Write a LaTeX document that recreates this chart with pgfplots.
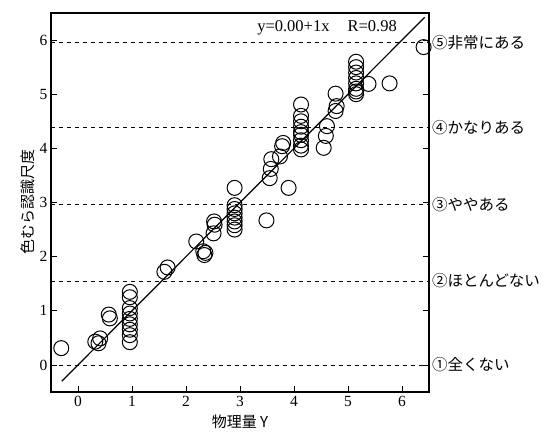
\documentclass[border=0pt]{standalone}
\usepackage{pgfplots}
\pgfplotsset{compat=1.18}
\usepackage{fontspec}
\setmainfont{Liberation Serif}
\newfontfamily\jp{Noto Sans CJK JP}
\begin{document}
\begin{tikzpicture}
\begin{axis}[
  scale only axis, width=378pt, height=379pt,
  xmin=-0.5, xmax=6.5, ymin=-0.5, ymax=6.5,
  axis line style={line width=1.5pt},
  xtick={0,1,2,3,4,5,6}, ytick={0,1,2,3,4,5,6},
  xtick pos=bottom, ytick pos=both,
  tick align=inside, major tick length=6pt,
  tick style={line width=0.8pt, black},
  /pgf/number format/assume math mode=true,
  ticklabel style={font=\fontsize{15.5}{17}\selectfont},
  xticklabel style={yshift=-1pt},
  xlabel={\jp\fontsize{15}{17}\selectfont 物理量 Y},
  ylabel={\jp\fontsize{15}{17}\selectfont 色むら認識尺度},
  xlabel style={yshift=-1pt},
  ylabel style={yshift=-2pt},
  clip=false,
]
\foreach \yy in {0,1.55,2.97,4.39,5.96}{
  \edef\tmp{\noexpand\addplot[black, line width=0.7pt, dash pattern=on 4pt off 4pt] coordinates {(-0.5,\yy) (6.5,\yy)};}
  \tmp
}
\addplot[black, line width=1.2pt] coordinates {(-0.3,-0.3) (6.42,6.42)};
\addplot[only marks, mark=o, mark size=7.5pt, mark options={line width=1pt, black}] coordinates {
(-0.31,0.31) (0.32,0.43) (0.38,0.40) (0.41,0.49) (0.57,0.93) (0.59,0.86)
(0.96,1.35) (0.96,1.25) (0.96,1.05) (0.96,0.95) (0.96,0.85) (0.96,0.75) (0.96,0.65) (0.96,0.55) (0.96,0.42)
(1.60,1.72) (1.66,1.80) (2.19,2.28) (2.32,2.10) (2.34,2.03) (2.36,2.07)
(2.52,2.65) (2.53,2.59) (2.51,2.43)
(2.90,3.27) (2.90,2.95) (2.90,2.88) (2.90,2.80) (2.90,2.72) (2.90,2.65) (2.90,2.58) (2.90,2.50)
(3.49,2.67) (3.90,3.27)
(3.55,3.45) (3.57,3.62) (3.58,3.80) (3.74,3.85) (3.78,4.04) (3.80,4.10)
(4.13,4.81) (4.13,4.60) (4.13,4.50) (4.13,4.40) (4.13,4.30) (4.13,4.25) (4.13,4.15) (4.13,4.05) (4.13,3.98)
(4.55,4.01) (4.59,4.23) (4.61,4.41)
(4.77,4.69) (4.79,4.78) (4.77,5.01)
(5.15,5.60) (5.15,5.50) (5.15,5.40) (5.15,5.30) (5.15,5.20) (5.15,5.10) (5.15,5.05) (5.15,5.00)
(5.38,5.19) (5.77,5.20) (6.40,5.87)
};
\node[anchor=base east, font=\fontsize{16.5}{18}\selectfont] at (axis cs:5.97,6.15) {y=0.00+1x\hspace{1.1em}R=0.98};
\begin{scope}[every node/.style={anchor=west, inner sep=0pt, font=\jp\fontsize{15.5}{17}\selectfont}]
\node at ([xshift=3pt]axis cs:6.5,5.96) {⑤非常にある};
\node at ([xshift=3pt]axis cs:6.5,4.39) {④かなりある};
\node at ([xshift=3pt]axis cs:6.5,2.97) {③ややある};
\node at ([xshift=3pt]axis cs:6.5,1.55) {②ほとんどない};
\node at ([xshift=3pt]axis cs:6.5,0) {①全くない};
\end{scope}
\end{axis}
\path ([xshift=-51pt,yshift=-42pt]current axis.south west) rectangle ([xshift=117pt,yshift=13pt]current axis.north east);
\end{tikzpicture}
\end{document}
